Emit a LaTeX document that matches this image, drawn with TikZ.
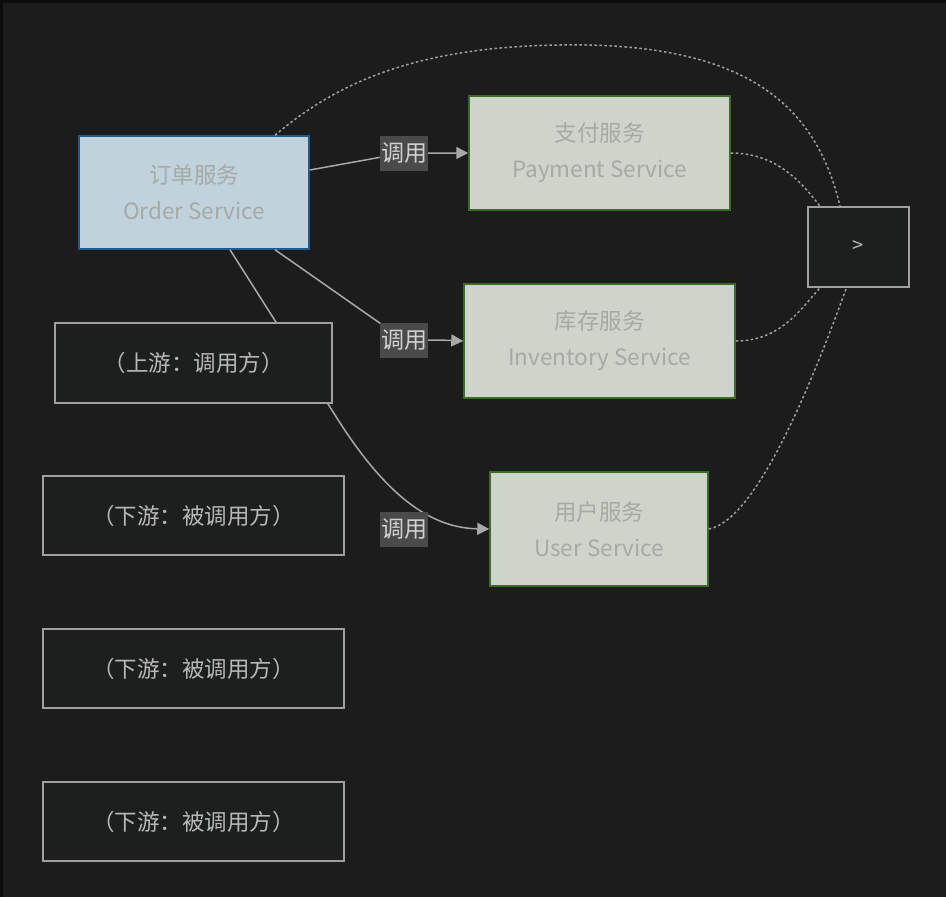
\documentclass[tikz,border=0pt]{standalone}
\usepackage{fontspec}
\setmainfont{Noto Sans CJK SC}
\usetikzlibrary{arrows.meta}
\definecolor{bgc}{HTML}{1C1C1C}
\definecolor{framec}{HTML}{0C0C0C}
\definecolor{ordfill}{HTML}{C0D3DC}
\definecolor{orddraw}{HTML}{1F5A8F}
\definecolor{svcfill}{HTML}{CED4CA}
\definecolor{svcdraw}{HTML}{3C6B28}
\definecolor{svctext}{HTML}{A6A9A6}
\definecolor{darkfill}{HTML}{1D1F1F}
\definecolor{darkdraw}{HTML}{A0A0A0}
\definecolor{darktext}{HTML}{B8B8B8}
\definecolor{lblfill}{HTML}{4A4A4A}
\definecolor{lbltext}{HTML}{D2D2D2}
\definecolor{edgec}{HTML}{A8A8A8}
\tikzset{
  box/.style={rectangle, line width=1.5pt, align=center, inner sep=0pt,
    font=\fontsize{22.5}{36}\selectfont},
  ordbox/.style={box, fill=ordfill, draw=orddraw, text=svctext},
  svcbox/.style={box, fill=svcfill, draw=svcdraw, text=svctext},
  darkbox/.style={box, fill=darkfill, draw=darkdraw, text=darktext},
  lbl/.style={rectangle, fill=lblfill, text=lbltext, inner sep=1pt,
    minimum width=46pt, minimum height=35pt, font=\fontsize{23}{25}\selectfont},
  edge/.style={draw=edgec, line width=1.5pt},
  arr/.style={-{Triangle[length=12pt,width=12pt]}},
  dots/.style={draw=darkdraw, line width=1.5pt, dash pattern=on 2.5pt off 2.5pt}
}
\begin{document}
\begin{tikzpicture}[x=1pt,y=-1pt]
\fill[framec] (0,0) rectangle (946,897);
\fill[bgc] (3,3) rectangle (946,897);
\useasboundingbox (0,0) rectangle (946,897);

% main nodes
\node[ordbox, minimum width=230pt, minimum height=113pt] (order) at (194,192.5) {订单服务\\Order Service};
\node[svcbox, minimum width=261pt, minimum height=114pt] (pay) at (599.5,153) {支付服务\\Payment Service};
\node[svcbox, minimum width=271pt, minimum height=114pt] (inv) at (599.5,341) {库存服务\\Inventory Service};
\node[svcbox, minimum width=218pt, minimum height=114pt] (user) at (599,529) {用户服务\\User Service};
\node[darkbox, minimum width=101pt, minimum height=80pt, font=\fontsize{20}{22}\selectfont] (gt) at (858.5,247) {>};

\coordinate (l1c) at (404,153);
\coordinate (l2c) at (404,340);
\coordinate (l3c) at (404,529);

% solid call edges
\draw[edge, arr] ([yshift=22.5pt]order.east) -- (l1c) -- (pay.west);
\draw[edge, arr] ([xshift=81pt]order.south) -- (l2c) .. controls (440,340) .. (inv.west);
\draw[edge, arr] ([xshift=36pt]order.south) -- (335,415) .. controls (385,495) and (430,528) .. (user.west);

% dotted edges
\draw[dots] ([xshift=81pt]order.north) .. controls (340,80) and (420,47) .. (560,45)
  .. controls (740,42) and (815,100) .. ([xshift=-18.5pt]gt.north);
\draw[dots] (pay.east) .. controls (775,153) and (800,180) .. ([xshift=-38.5pt]gt.north);
\draw[dots] (inv.east) .. controls (780,341) and (800,310) .. ([xshift=-38.5pt]gt.south);
\draw[dots] (user.east) .. controls (760,520) and (820,360) .. ([xshift=-12pt]gt.south);

% labels
\node[lbl] (l1) at (l1c) {调用};
\node[lbl] (l2) at (l2c) {调用};
\node[lbl] (l3) at (l3c) {调用};

% left column
\node[darkbox, minimum width=277pt, minimum height=80pt] (up) at (193.5,363) {（上游：调用方）};
\node[darkbox, minimum width=301pt, minimum height=79pt] (down1) at (193.5,515.5) {（下游：被调用方）};
\node[darkbox, minimum width=301pt, minimum height=79pt] (down2) at (193.5,668.5) {（下游：被调用方）};
\node[darkbox, minimum width=301pt, minimum height=79pt] (down3) at (193.5,821.5) {（下游：被调用方）};
\end{tikzpicture}
\end{document}
